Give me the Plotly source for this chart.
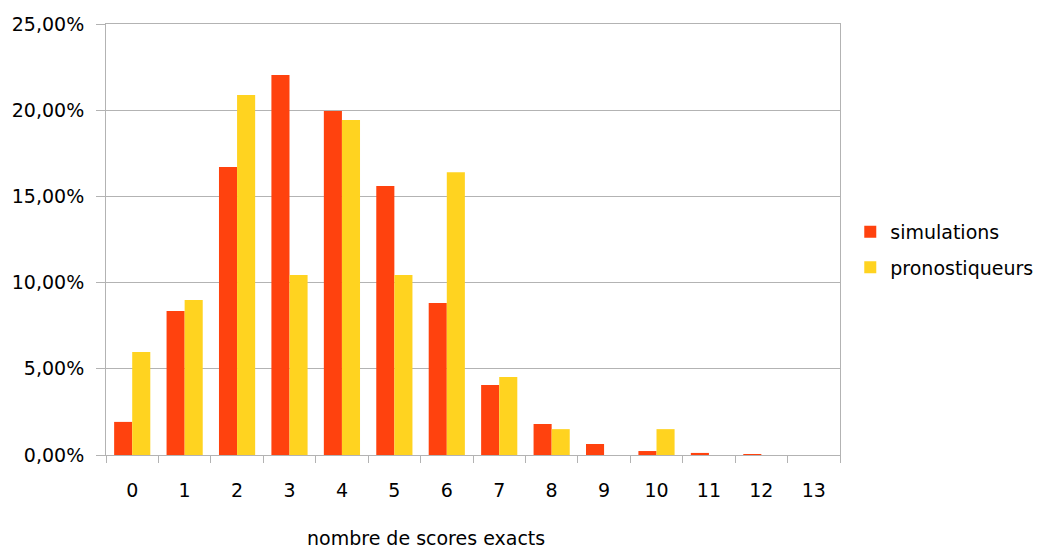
import plotly.graph_objects as go

# Share of players by number of exact scores
categories = ["0", "1", "2", "3", "4", "5", "6", "7", "8", "9", "10", "11", "12", "13"]
simulations = [0.0192, 0.0835, 0.1670, 0.2204, 0.1995, 0.1560, 0.0882,
               0.0406, 0.0180, 0.0064, 0.0023, 0.0012, 0.0005, 0.0]
pronostiqueurs = [0.0597, 0.0899, 0.2088, 0.1044, 0.1943, 0.1044, 0.1640,
                  0.0452, 0.0150, 0.0, 0.0150, 0.0, 0.0, 0.0]

FONT = "DejaVu Sans"
GRID = "#b3b3b3"
PLOT_L, PLOT_R, PLOT_T, PLOT_B = 106, 840, 24, 455

fig = go.Figure()
fig.add_trace(go.Bar(x=categories, y=simulations, name="simulations",
                     marker=dict(color="#ff420e", line=dict(width=0)),
                     legendgroup="a"))
fig.add_trace(go.Bar(x=categories, y=pronostiqueurs, name="pronostiqueurs",
                     marker=dict(color="#ffd320", line=dict(width=0)),
                     legendgroup="b"))

fig.update_layout(
    width=1042, height=549,
    margin=dict(l=PLOT_L, r=1042 - PLOT_R, t=PLOT_T, b=549 - PLOT_B,
                autoexpand=False),
    paper_bgcolor="white", plot_bgcolor="white",
    font=dict(family=FONT, size=19, color="#000000"),
    separators=", ",
    barmode="group", bargap=0.31, bargroupgap=0,
    showlegend=True,
    legend=dict(xref="container", yref="container", x=0.816, y=0.545,
                xanchor="left", yanchor="middle", tracegroupgap=8,
                font=dict(size=19), bgcolor="rgba(0,0,0,0)"),
    annotations=[dict(text="nombre de scores exacts", xref="paper", yref="paper",
                      x=(426 - PLOT_L) / (PLOT_R - PLOT_L),
                      y=(PLOT_B - 538) / (PLOT_B - PLOT_T),
                      xanchor="center", yanchor="middle", showarrow=False,
                      font=dict(size=19))],
)

fig.update_xaxes(type="category", showline=True, linecolor=GRID, linewidth=1,
                 mirror=True, ticks="outside", tickson="boundaries", ticklen=7,
                 tickcolor=GRID, showgrid=False, ticklabelstandoff=18)
fig.update_yaxes(range=[0, 0.25], dtick=0.05, tickformat=".2%",
                 showline=True, linecolor=GRID, linewidth=1, mirror=True,
                 ticks="outside", ticklen=9, tickcolor=GRID,
                 showgrid=True, gridcolor=GRID, gridwidth=1, zeroline=False,
                 ticklabelstandoff=8)

fig.write_html("out.html")
